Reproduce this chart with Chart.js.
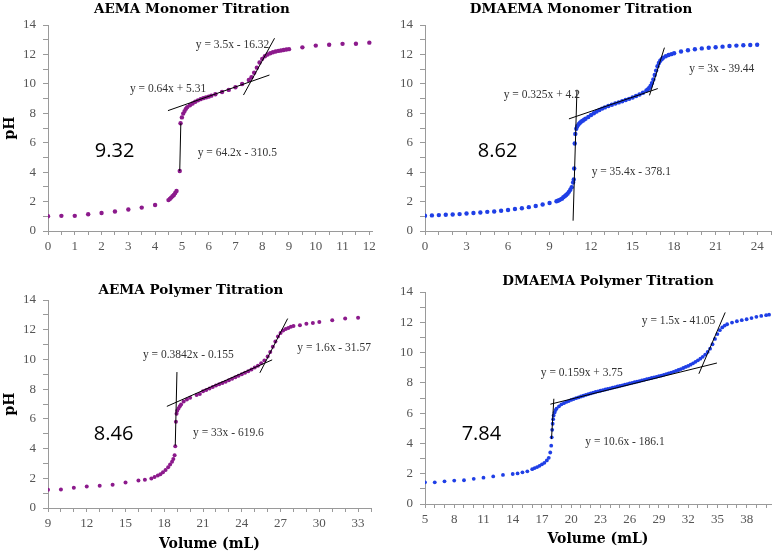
<!DOCTYPE html>
<html>
<head>
<meta charset="utf-8">
<script src="https://cdn.jsdelivr.net/npm/chart.js@4.4.1/dist/chart.umd.min.js"></script>
<style>
html, body { margin: 0; padding: 0; background: #fff; }
#wrap { position: relative; width: 775px; height: 555px; overflow: hidden; }
canvas { position: absolute; }
</style>
</head>
<body>
<div id="wrap">
  <canvas id="c1" width="385" height="275" style="left:0;top:0"></canvas>
  <canvas id="c2" width="390" height="275" style="left:385px;top:0"></canvas>
  <canvas id="c3" width="385" height="290" style="left:0;top:265px"></canvas>
  <canvas id="c4" width="390" height="290" style="left:385px;top:265px"></canvas>
</div>
<script>
// AEMA monomer titration
const aemaMonoVol = [0,0.5,1,1.5,2,2.5,3,3.5,4,4.5,4.55,4.6,4.65,4.7,4.75,4.8,4.92,4.95,5.0,5.05,5.1,5.15,5.2,5.3,5.4,5.5,5.6,5.7,5.8,5.9,6.0,6.1,6.25,6.5,6.75,7.0,7.25,7.5,7.6,7.7,7.8,7.9,8.0,8.1,8.2,8.3,8.4,8.5,8.6,8.7,8.8,8.9,9.0,9.5,10,10.5,11,11.5,12];
const aemaMonoPH = [1.0,1.03,1.03,1.14,1.22,1.33,1.46,1.59,1.77,2.1,2.18,2.27,2.36,2.45,2.58,2.72,4.08,7.32,7.72,7.98,8.15,8.3,8.42,8.55,8.66,8.78,8.88,8.96,9.03,9.08,9.13,9.2,9.29,9.45,9.59,9.77,9.99,10.26,10.45,10.75,11.1,11.45,11.7,11.88,12.0,12.08,12.15,12.2,12.24,12.27,12.3,12.33,12.36,12.48,12.6,12.66,12.72,12.73,12.8];
const aemaMonoFitX = [[4.92,4.96],[4.48,8.27],[7.3,8.46]];
const aemaMonoFitY = [[4.08,7.32],[8.18,10.6],[9.24,13.1]];
const aemaMonoLabels = [0,1,2,3,4,5,6,7,8,9,10,11,12];

// DMAEMA monomer titration
const dmaMonoVol = [0,0.5,1,1.5,2,2.5,3,3.5,4,4.5,5,5.5,6,6.5,7,7.5,8,8.5,9,9.5,9.6,9.7,9.8,9.9,10,10.1,10.2,10.3,10.4,10.5,10.6,10.7,10.75,10.78,10.82,10.86,10.93,11,11.1,11.2,11.3,11.4,11.5,11.6,11.8,12,12.2,12.4,12.6,12.8,13,13.25,13.5,13.75,14,14.25,14.5,14.75,15,15.25,15.5,15.75,16,16.1,16.2,16.3,16.4,16.5,16.6,16.7,16.8,16.9,17,17.1,17.2,17.4,17.6,17.8,18,18.5,19,19.5,20,20.5,21,21.5,22,22.5,23,23.5,24];
const dmaMonoPH = [1.04,1.06,1.08,1.1,1.12,1.15,1.19,1.22,1.26,1.3,1.33,1.38,1.43,1.5,1.55,1.62,1.7,1.8,1.9,2.02,2.06,2.1,2.15,2.2,2.3,2.37,2.45,2.54,2.66,2.8,2.98,3.3,3.5,4.25,5.95,6.6,6.95,7.12,7.25,7.36,7.44,7.5,7.57,7.63,7.75,7.88,8.0,8.12,8.22,8.32,8.4,8.5,8.58,8.66,8.74,8.82,8.9,8.98,9.07,9.17,9.28,9.4,9.55,9.62,9.72,9.85,10.05,10.3,10.6,10.9,11.2,11.42,11.57,11.68,11.77,11.88,11.96,12.02,12.08,12.2,12.28,12.35,12.41,12.45,12.49,12.53,12.57,12.6,12.62,12.64,12.66];
const dmaMonoFitX = [[10.7,10.98],[10.4,16.82],[16.22,17.3]];
const dmaMonoFitY = [[0.7,9.6],[7.62,9.68],[9.22,12.46]];
const dmaMonoLabels = [0,3,6,9,12,15,18,21,24];

// AEMA polymer titration
const aemaPolyVol = [9,10,11,12,13,14,15,16,16.5,17,17.25,17.5,17.7,17.9,18.1,18.3,18.45,18.6,18.7,18.8,18.85,18.9,18.95,19.0,19.1,19.2,19.3,19.5,19.75,20,20.5,20.75,21,21.25,21.5,21.75,22,22.25,22.5,22.75,23,23.25,23.5,23.75,24,24.25,24.5,24.75,25,25.25,25.5,25.75,26,26.2,26.4,26.6,26.8,27,27.2,27.4,27.6,27.8,28,28.5,29,29.5,30,31,32,33];
const aemaPolyPH = [1.23,1.25,1.37,1.44,1.5,1.56,1.72,1.85,1.9,1.98,2.08,2.18,2.28,2.4,2.55,2.75,2.92,3.12,3.3,3.55,4.15,5.8,6.35,6.55,6.7,6.85,6.97,7.17,7.3,7.42,7.6,7.68,7.85,7.95,8.05,8.14,8.24,8.33,8.42,8.5,8.6,8.7,8.8,8.9,9.0,9.1,9.2,9.32,9.45,9.58,9.75,9.92,10.2,10.5,10.85,11.2,11.55,11.78,11.95,12.05,12.12,12.2,12.25,12.3,12.4,12.45,12.52,12.64,12.76,12.8];
const aemaPolyFitX = [[18.85,18.98],[18.2,26.35],[25.4,27.55]];
const aemaPolyFitY = [[4.2,9.15],[6.84,9.97],[9.1,12.75]];
const aemaPolyLabels = [9,12,15,18,21,24,27,30,33];

// DMAEMA polymer titration
const dmaPolyVol = [5,6,7,8,9,10,11,12,13,14,14.5,15,15.5,16,16.25,16.5,16.75,17,17.25,17.5,17.7,17.85,17.95,18,18.05,18.1,18.15,18.2,18.3,18.4,18.5,18.75,
  19,19.25,19.5,19.75,20,20.25,20.5,20.75,21,21.25,21.5,21.75,22,22.25,22.5,22.75,23,23.25,23.5,23.75,24,24.25,24.5,24.75,
  25,25.25,25.5,25.75,26,26.25,26.5,26.75,27,27.25,27.5,27.75,28,28.25,28.5,28.75,29,29.25,29.5,29.75,30,30.25,30.5,30.75,
  31,31.25,31.5,31.75,32,32.25,32.5,32.75,33,33.25,33.5,33.75,34,34.25,34.5,34.75,35,35.25,35.5,35.75,36,
  36.5,37,37.5,38,38.5,39,39.5,40,40.3];
const dmaPolyPH = [1.43,1.43,1.5,1.55,1.57,1.66,1.74,1.82,1.92,1.98,2.02,2.09,2.16,2.3,2.37,2.44,2.52,2.62,2.72,2.88,3.05,3.4,3.85,4.4,4.9,5.3,5.6,5.85,6.05,6.2,6.3,6.45,
  6.58,6.66,6.74,6.8,6.87,6.93,6.99,7.04,7.1,7.15,7.2,7.25,7.3,7.35,7.4,7.44,7.48,7.52,7.56,7.6,7.64,7.68,7.72,7.76,
  7.8,7.84,7.88,7.92,7.96,8.0,8.04,8.08,8.12,8.16,8.2,8.24,8.28,8.32,8.36,8.4,8.44,8.48,8.53,8.58,8.63,8.68,8.73,8.79,
  8.85,8.91,8.98,9.05,9.12,9.2,9.29,9.39,9.49,9.6,9.72,9.87,10.04,10.26,10.55,10.9,11.22,11.48,11.66,11.78,11.87,
  11.98,12.07,12.14,12.2,12.28,12.36,12.42,12.47,12.5];
const dmaPolyFitX = [[17.98,18.22],[17.86,34.95],[33.1,35.8]];
const dmaPolyFitY = [[4.3,6.95],[6.59,9.31],[8.6,12.65]];
const dmaPolyLabels = [5,8,11,14,17,20,23,26,29,32,35,38];

const phLabels = [0,2,4,6,8,10,12,14];

Chart.defaults.font.family = '"Liberation Serif", serif';
Chart.defaults.color = '#555';

// titles, equations and big numbers
const panelText = {
  id: 'panelText',
  afterDatasetsDraw(chart, args, opts) {
    const ctx = chart.ctx;
    const xs = chart.scales.x, ys = chart.scales.y;
    ctx.save();
    ctx.textBaseline = 'middle';
    ctx.textAlign = 'center';
    ctx.fillStyle = '#000';
    ctx.font = 'bold 13.5px "DejaVu Serif"';
    ctx.fillText(opts.title, opts.titleX, opts.titleY);
    ctx.textAlign = 'left';
    opts.notes.forEach(n => {
      if (n.big) {
        ctx.font = '20px "Open Sans"';
        ctx.fillStyle = '#000';
      } else {
        ctx.font = '11.5px "Liberation Serif"';
        ctx.fillStyle = '#333';
      }
      ctx.fillText(n.text, xs.getPixelForValue(n.x), ys.getPixelForValue(n.y));
    });
    ctx.restore();
  }
};

function makeChart(id, c) {
  const fits = c.fitX.map((fx, k) => ({
    data: fx.map((v, i) => ({ x: v, y: c.fitY[k][i] })),
    showLine: true,
    borderColor: '#000',
    borderWidth: 1,
    pointRadius: 0,
    order: 0
  }));
  const dots = {
    data: c.vol.map((v, i) => ({ x: v, y: c.ph[i] })),
    pointRadius: c.radius,
    pointBackgroundColor: c.color,
    pointBorderWidth: 0,
    order: 1
  };

  new Chart(document.getElementById(id), {
    type: 'scatter',
    data: { datasets: fits.concat([dots]) },
    options: {
      responsive: false,
      animation: false,
      layout: { padding: c.pad },
      plugins: {
        legend: { display: false },
        tooltip: { enabled: false },
        panelText: { title: c.title, titleX: c.titleX, titleY: c.titleY, notes: c.notes }
      },
      scales: {
        x: {
          type: 'linear',
          min: c.xMin,
          max: c.xMax,
          afterBuildTicks: s => {
            const t = [];
            for (let v = c.xFirst; v <= c.xMax + 1e-9; v += c.xMinor) t.push({ value: Math.round(v * 100) / 100 });
            s.ticks = t;
          },
          afterFit: s => { s.height = c.xH; },
          ticks: {
            autoSkip: false, maxRotation: 0, padding: 4,
            font: { size: 13 }, color: '#555',
            callback: v => c.xLabels.includes(v) ? String(v) : ''
          },
          grid: { drawOnChartArea: false, drawTicks: true, tickLength: 4, color: '#9a9a9a' },
          border: { color: '#9a9a9a' },
          title: {
            display: !!c.xTitle, text: c.xTitle, color: '#000',
            font: { family: '"DejaVu Serif"', weight: 'bold', size: 14 },
            padding: { top: 0, bottom: c.xTitlePad }
          }
        },
        y: {
          type: 'linear',
          min: 0,
          max: 14,
          afterBuildTicks: s => {
            const t = [];
            for (let v = 0; v <= 14; v++) t.push({ value: v });
            s.ticks = t;
          },
          afterFit: s => { s.width = c.yW; },
          ticks: {
            autoSkip: false, padding: 7,
            font: { size: 13 }, color: '#555',
            callback: v => phLabels.includes(v) ? String(v) : ''
          },
          grid: { drawOnChartArea: false, drawTicks: true, tickLength: 5, color: '#9a9a9a' },
          border: { color: '#9a9a9a' },
          title: {
            display: c.showPH, text: 'pH', color: '#000',
            font: { family: '"DejaVu Serif"', weight: 'bold', size: 14 },
            padding: { top: 2, bottom: 0 }
          }
        }
      }
    },
    plugins: [panelText]
  });
}

makeChart('c1', {
  vol: aemaMonoVol, ph: aemaMonoPH, fitX: aemaMonoFitX, fitY: aemaMonoFitY,
  color: '#8c1a8c', radius: 2.2,
  xMin: 0, xMax: 12.1, xFirst: 0, xMinor: 0.5, xLabels: aemaMonoLabels,
  pad: { top: 25, right: 13, left: 0, bottom: 0 }, yW: 48, xH: 44, showPH: true,
  title: 'AEMA Monomer Titration', titleX: 192, titleY: 9,
  notes: [
    { text: 'y = 3.5x - 16.32', x: 5.52, y: 12.64 },
    { text: 'y = 0.64x + 5.31', x: 3.06, y: 9.65 },
    { text: 'y = 64.2x - 310.5', x: 5.59, y: 5.3 },
    { text: '9.32', x: 1.75, y: 5.44, big: true }
  ]
});

makeChart('c2', {
  vol: dmaMonoVol, ph: dmaMonoPH, fitX: dmaMonoFitX, fitY: dmaMonoFitY,
  color: '#1f3fe6', radius: 2.2,
  xMin: 0, xMax: 25, xFirst: 0, xMinor: 1, xLabels: dmaMonoLabels,
  pad: { top: 25, right: 3, left: 0, bottom: 0 }, yW: 40, xH: 44, showPH: false,
  title: 'DMAEMA Monomer Titration', titleX: 196, titleY: 9,
  notes: [
    { text: 'y = 0.325x + 4.2', x: 5.69, y: 9.25 },
    { text: 'y = 35.4x - 378.1', x: 12.04, y: 4.01 },
    { text: 'y = 3x - 39.44', x: 19.1, y: 11.01 },
    { text: '8.62', x: 3.82, y: 5.44, big: true }
  ]
});

makeChart('c3', {
  vol: aemaPolyVol, ph: aemaPolyPH, fitX: aemaPolyFitX, fitY: aemaPolyFitY,
  color: '#8c1a8c', radius: 2,
  xMin: 9, xMax: 34, xFirst: 9, xMinor: 1, xLabels: aemaPolyLabels,
  pad: { top: 35, right: 14, left: 0, bottom: 0 }, yW: 48, xH: 47, showPH: true,
  xTitle: 'Volume (mL)', xTitlePad: 2,
  title: 'AEMA Polymer Titration', titleX: 191, titleY: 25,
  notes: [
    { text: 'y = 0.3842x - 0.155', x: 16.35, y: 10.3 },
    { text: 'y = 1.6x - 31.57', x: 28.3, y: 10.77 },
    { text: 'y = 33x - 619.6', x: 20.23, y: 5.06 },
    { text: '8.46', x: 12.55, y: 4.99, big: true }
  ]
});

makeChart('c4', {
  vol: dmaPolyVol, ph: dmaPolyPH, fitX: dmaPolyFitX, fitY: dmaPolyFitY,
  color: '#1f3fe6', radius: 1.9,
  xMin: 5, xMax: 40.5, xFirst: 5, xMinor: 1, xLabels: dmaPolyLabels,
  pad: { top: 27, right: 0, left: 0, bottom: 0 }, yW: 40, xH: 51, showPH: false,
  xTitle: 'Volume (mL)', xTitlePad: 7,
  title: 'DMAEMA Polymer Titration', titleX: 223, titleY: 16,
  notes: [
    { text: 'y = 1.5x - 41.05', x: 27.24, y: 12.11 },
    { text: 'y = 0.159x + 3.75', x: 16.88, y: 8.67 },
    { text: 'y = 10.6x - 186.1', x: 21.45, y: 4.11 },
    { text: '7.84', x: 8.76, y: 4.58, big: true }
  ]
});
</script>
</body>
</html>
